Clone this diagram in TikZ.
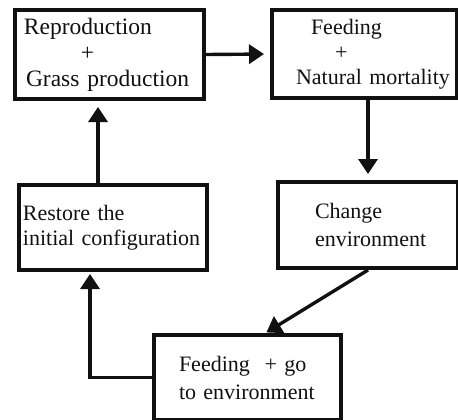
\documentclass[tikz,border=0pt]{standalone}
\usepackage{fontspec}
\setmainfont{Liberation Serif}
\usetikzlibrary{arrows.meta, positioning}
\definecolor{negro}{HTML}{111111}
\tikzset{
  bloque/.style={rectangle, draw=negro, line width=4pt, anchor=north west, inner sep=0pt,
                 align=left, text=negro, font=\fontsize{22}{25}\selectfont},
  bloquea/.style={bloque, font=\fontsize{22}{28}\selectfont},
  arrow/.style={line width=3.4pt, draw=negro, -{Triangle[width=19pt,length=15pt]}, shorten >=6pt}
}
\begin{document}
\begin{tikzpicture}[x=1pt, y={(0pt,-1pt)}]
  \useasboundingbox (0,0) rectangle (458,420);
  \node (repro) [bloque, font=\fontsize{23.5}{26}\selectfont, minimum width=189, minimum height=89, text width=189] at (13,8)
    {\hspace*{9pt}Reproduction\\ \hspace*{66pt}+\\ \hspace*{11pt}Grass production};
  \node (feeding) [bloque, minimum width=185, minimum height=88, text width=185] at (270,8)
    {\hspace*{39pt}Feeding\\ \hspace*{63pt}+\\ \hspace*{24pt}Natural mortality};
  \node (change) [bloquea, minimum width=180, minimum height=86, text width=180] at (276,180)
    {\hspace*{37pt}Change\\ \hspace*{37pt}environment};
  \node (restore) [bloque, minimum width=188, minimum height=85, text width=188] at (17,183)
    {\hspace*{4pt}Restore the\\ \hspace*{4pt}initial configuration};
  \node (gotoenv) [bloquea, minimum width=187, minimum height=85, text width=187] at (152,333)
    {\hspace*{25pt}Feeding~ + go\\ \hspace*{25pt}to environment};
  \coordinate (codo) at (90,268);
  \draw [arrow] (repro.east) -- (feeding.west);
  \draw [arrow] (change.north |- feeding.south) -- (change.north);
  \draw [arrow, shorten >=1pt] (change.south) -- ([xshift=18pt]gotoenv.north);
  \draw [arrow] (gotoenv.west) -| (codo);
  \draw [arrow] ([xshift=-15pt]restore.north) -- ([xshift=-15pt]restore.north |- repro.south);
\end{tikzpicture}
\end{document}
